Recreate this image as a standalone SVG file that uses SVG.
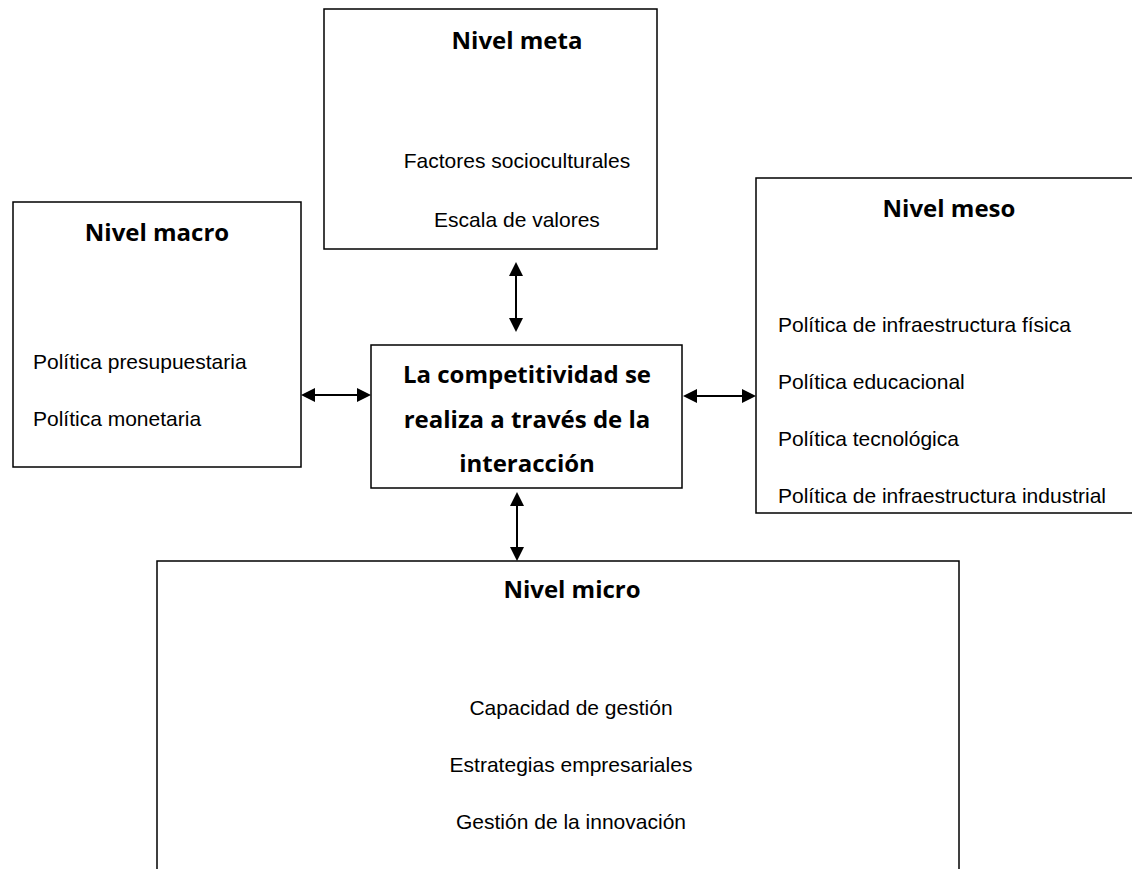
<svg xmlns="http://www.w3.org/2000/svg" width="1132" height="869" viewBox="0 0 1132 869">
<style>
.box{fill:#fff;stroke:#000;stroke-width:1.5}
.t{font-family:"Open Sans","Liberation Sans",sans-serif;font-weight:bold;font-size:24px;fill:#000;text-anchor:middle}
.b{font-family:"Liberation Sans",Arial,sans-serif;font-size:21px;fill:#000}
.c{text-anchor:middle}
.con{stroke:#000;stroke-width:2;fill:none}
</style>
<defs>
<marker id="ah" viewBox="0 0 14 14" refX="0" refY="7" markerWidth="14" markerHeight="14" markerUnits="userSpaceOnUse" orient="auto-start-reverse">
<path d="M0,0 L14,7 L0,14 z" fill="#000"/>
</marker>
</defs>
<rect width="1132" height="869" fill="#fff"/>
<g id="meta">
<rect class="box" x="324" y="9" width="333" height="240"/>
<text class="t" x="517" y="49">Nivel meta</text>
<text class="b c" x="517" y="168">Factores socioculturales</text>
<text class="b c" x="517" y="227">Escala de valores</text>
</g>
<g id="macro">
<rect class="box" x="13" y="202" width="288" height="265"/>
<text class="t" x="157" y="241">Nivel macro</text>
<text class="b" x="33" y="369">Política presupuestaria</text>
<text class="b" x="33" y="426">Política monetaria</text>
</g>
<g id="centro">
<rect class="box" x="371" y="345" width="311" height="143"/>
<text class="t" x="527" y="383">La competitividad se</text>
<text class="t" x="527" y="428">realiza a través de la</text>
<text class="t" x="527" y="472">interacción</text>
</g>
<g id="meso">
<rect class="box" x="756" y="178" width="386" height="335"/>
<text class="t" x="949" y="217">Nivel meso</text>
<text class="b" x="778" y="332">Política de infraestructura física</text>
<text class="b" x="778" y="389">Política educacional</text>
<text class="b" x="778" y="446">Política tecnológica</text>
<text class="b" x="778" y="503">Política de infraestructura industrial</text>
</g>
<g id="micro">
<rect class="box" x="157" y="561" width="802" height="340"/>
<text class="t" x="572" y="598">Nivel micro</text>
<text class="b c" x="571" y="715">Capacidad de gestión</text>
<text class="b c" x="571" y="772">Estrategias empresariales</text>
<text class="b c" x="571" y="829">Gestión de la innovación</text>
</g>
<g id="connectors">
<line class="con" x1="516" y1="276" x2="516" y2="318" marker-start="url(#ah)" marker-end="url(#ah)"/>
<line class="con" x1="517" y1="506" x2="517" y2="547" marker-start="url(#ah)" marker-end="url(#ah)"/>
<line class="con" x1="315" y1="395" x2="357" y2="395" marker-start="url(#ah)" marker-end="url(#ah)"/>
<line class="con" x1="697" y1="396" x2="742" y2="396" marker-start="url(#ah)" marker-end="url(#ah)"/>
</g>
</svg>
